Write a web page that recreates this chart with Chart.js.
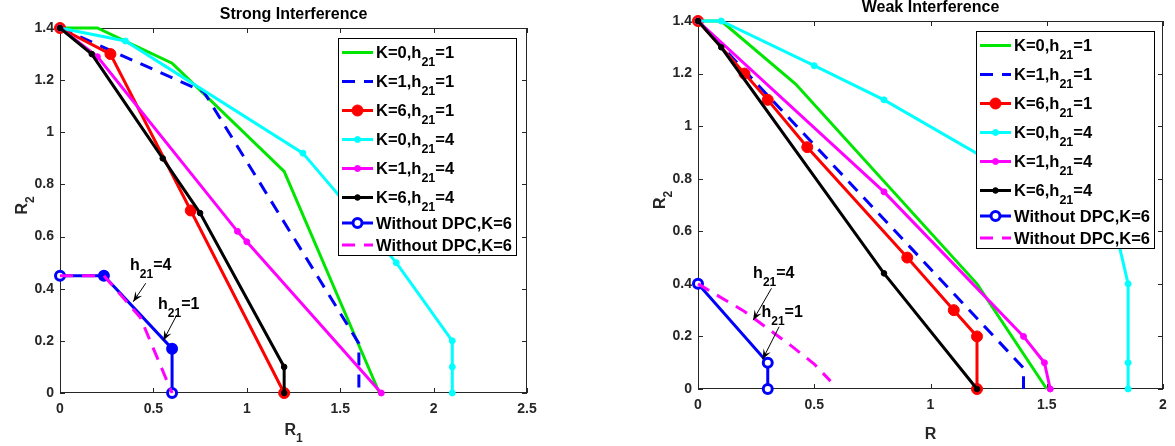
<!DOCTYPE html>
<html>
<head>
<meta charset="utf-8">
<script src="https://cdn.jsdelivr.net/npm/chart.js@4.4.1/dist/chart.umd.min.js"></script>
<style>
  html, body { margin: 0; padding: 0; background: #fff; overflow: hidden; }
  #wrap { position: relative; width: 1175px; height: 446px; }
  canvas { position: absolute; top: 0; }
  #strong { left: 0; }
  #weak { left: 640px; }
</style>
</head>
<body>
<div id="wrap">
  <canvas id="strong" width="560" height="446"></canvas>
  <canvas id="weak" width="535" height="446"></canvas>
</div>
<script>
// ---- data: [R1, R2] pairs per curve ----
const legendLabels = [
  'K=0,h_{21}=1', 'K=1,h_{21}=1', 'K=6,h_{21}=1',
  'K=0,h_{21}=4', 'K=1,h_{21}=4', 'K=6,h_{21}=4',
  'Without DPC,K=6', 'Without DPC,K=6'
];

// strong interference (left)
const strongXTicks = [0, 0.5, 1, 1.5, 2, 2.5];
const strongYTicks = [0, 0.2, 0.4, 0.6, 0.8, 1, 1.2, 1.4];
const strongK0H1 = [[0, 1.4], [0.2, 1.4], [0.6, 1.265], [1.2, 0.85], [1.71, 0]];
const strongK1H1 = [[0, 1.4], [0.77, 1.155], [1.6, 0.19], [1.6, 0]];
const strongK6H1 = [[0, 1.4], [0.27, 1.3], [0.7, 0.7], [1.2, 0]];
const strongK0H4 = [[0, 1.4], [0.35, 1.35], [1.3, 0.92], [1.8, 0.5], [2.1, 0.2], [2.1, 0.1], [2.1, 0]];
const strongK1H4 = [[0, 1.4], [0.2, 1.29], [0.95, 0.62], [1.0, 0.58], [1.72, 0]];
const strongK6H4 = [[0, 1.4], [0.17, 1.3], [0.55, 0.9], [0.75, 0.69], [1.2, 0.1], [1.2, 0]];
const strongNoDpcH1 = [[0, 0.45], [0.235, 0.45], [0.6, 0.17], [0.6, 0]];
const strongNoDpcH4 = [[0, 0.45], [0.235, 0.45], [0.43, 0.29], [0.6, 0]];

// weak interference (right)
const weakXTicks = [0, 0.5, 1, 1.5, 2];
const weakYTicks = [0, 0.2, 0.4, 0.6, 0.8, 1, 1.2, 1.4];
const weakK0H1 = [[0, 1.4], [0.1, 1.4], [0.42, 1.16], [1.2, 0.4], [1.5, 0]];
const weakK1H1 = [[0, 1.4], [1.4, 0.08], [1.4, 0]];
const weakK6H1 = [[0, 1.4], [0.2, 1.2], [0.3, 1.1], [0.47, 0.92], [0.9, 0.5], [1.1, 0.3], [1.2, 0.2], [1.2, 0]];
const weakK0H4 = [[0, 1.4], [0.1, 1.4], [0.5, 1.23], [0.8, 1.1], [1.8, 0.59], [1.85, 0.4], [1.85, 0.1], [1.85, 0]];
const weakK1H4 = [[0, 1.4], [0.8, 0.75], [1.4, 0.2], [1.49, 0.1], [1.515, 0]];
const weakK6H4 = [[0, 1.4], [0.1, 1.3], [0.8, 0.44], [1.2, 0]];
const weakNoDpcH1 = [[0, 0.4], [0.3, 0.1], [0.3, 0]];
const weakNoDpcH4 = [[0, 0.4], [0.2, 0.295], [0.4, 0.165], [0.5, 0.095], [0.57, 0.03]];

// ---- look ----
const FONT = '"Liberation Sans", Arial, Helvetica, sans-serif';
const AXIS_GRAY = '#262626';
const DASH = [13, 9];
const LINE_W = 3;

const seriesStyles = [
  { color: '#00e600', dash: [], radius: 0 },
  { color: '#0000ff', dash: DASH, radius: 0 },
  { color: '#ff0000', dash: [], radius: 5.5 },
  { color: '#00ffff', dash: [], radius: 3 },
  { color: '#ff00ff', dash: [], radius: 3 },
  { color: '#000000', dash: [], radius: 2.8 },
  { color: '#0000ff', dash: [], radius: 4.5, hollow: true },
  { color: '#ff00ff', dash: DASH, radius: 0 }
];

// annotation text + arrows, in data coordinates
const extras = {
  strong: {
    xLabel: 'R_{1}', xLabelDrop: 42, legendInset: 10,
    notes: [
      { text: 'h_{21}=4', x: 0.375, y: 0.472, from: [0.459, 0.421], to: [0.392, 0.35] },
      { text: 'h_{21}=1', x: 0.525, y: 0.322, from: [0.625, 0.299], to: [0.553, 0.201] }
    ],
    hollowAll: false
  },
  weak: {
    xLabel: 'R', xLabelDrop: 50, legendInset: 8,
    notes: [
      { text: 'h_{21}=4', x: 0.237, y: 0.422, from: [0.316, 0.383], to: [0.237, 0.262] },
      { text: 'h_{21}=1', x: 0.273, y: 0.275, from: [0.349, 0.237], to: [0.278, 0.113] }
    ],
    hollowAll: true
  }
};

function font(size) { return `bold ${size}px ${FONT}`; }

// text with _{sub} parts
function drawRich(ctx, str, x, y, size, subSize, drop, align) {
  const parts = str.split(/_\{(.*?)\}/).map((t, i) => ({ t, sub: i % 2 === 1 })).filter(p => p.t);
  let w = 0;
  parts.forEach(p => { ctx.font = font(p.sub ? subSize : size); p.w = ctx.measureText(p.t).width; w += p.w; });
  let cx = align === 'center' ? x - w / 2 : x;
  ctx.textAlign = 'left';
  ctx.textBaseline = 'alphabetic';
  parts.forEach(p => {
    ctx.font = font(p.sub ? subSize : size);
    ctx.fillText(p.t, cx, p.sub ? y + drop : y);
    cx += p.w;
  });
}

function drawArrow(ctx, x1, y1, x2, y2) {
  ctx.beginPath(); ctx.moveTo(x1, y1); ctx.lineTo(x2, y2); ctx.stroke();
  const ang = Math.atan2(y2 - y1, x2 - x1);
  const L = 10, W = 4;
  const c = Math.cos(ang), s = Math.sin(ang);
  ctx.beginPath();
  ctx.moveTo(x2, y2);
  ctx.lineTo(x2 - L * c + W * s, y2 - L * s - W * c);
  ctx.lineTo(x2 - 0.6 * L * c, y2 - 0.6 * L * s);
  ctx.lineTo(x2 - L * c - W * s, y2 - L * s + W * c);
  ctx.closePath();
  ctx.fill();
}

function drawMarker(ctx, x, y, st) {
  if (!st.radius) return;
  ctx.setLineDash([]);
  ctx.beginPath();
  ctx.arc(x, y, st.radius, 0, Math.PI * 2);
  ctx.fillStyle = st.hollow ? '#fff' : st.color;
  ctx.fill();
  ctx.lineWidth = st.hollow ? LINE_W : 1;
  ctx.strokeStyle = st.color;
  ctx.stroke();
}

const matlabLook = {
  id: 'matlabLook',
  beforeDatasetsDraw(chart) {
    const { ctx, chartArea: a, scales } = chart;
    ctx.save();
    ctx.strokeStyle = AXIS_GRAY;
    ctx.lineWidth = 1;
    ctx.strokeRect(a.left + 0.5, a.top + 0.5, a.right - a.left - 1, a.bottom - a.top - 1);
    ctx.beginPath();
    scales.x.ticks.forEach(t => {
      const px = Math.round(scales.x.getPixelForValue(t.value)) + 0.5;
      ctx.moveTo(px, a.bottom); ctx.lineTo(px, a.bottom - 5);
      ctx.moveTo(px, a.top); ctx.lineTo(px, a.top + 5);
    });
    scales.y.ticks.forEach(t => {
      const py = Math.round(scales.y.getPixelForValue(t.value)) + 0.5;
      ctx.moveTo(a.left, py); ctx.lineTo(a.left + 5, py);
      ctx.moveTo(a.right, py); ctx.lineTo(a.right - 5, py);
    });
    ctx.stroke();
    ctx.restore();
  },
  afterDatasetsDraw(chart) {
    const { ctx, chartArea: a, scales } = chart;
    const ex = extras[chart.canvas.id];
    ctx.save();

    // annotations
    ctx.fillStyle = '#000';
    ctx.strokeStyle = '#000';
    ctx.lineWidth = 1;
    ex.notes.forEach(n => {
      drawRich(ctx, n.text, scales.x.getPixelForValue(n.x), scales.y.getPixelForValue(n.y), 16, 12, 8, 'left');
      drawArrow(ctx,
        scales.x.getPixelForValue(n.from[0]), scales.y.getPixelForValue(n.from[1]),
        scales.x.getPixelForValue(n.to[0]), scales.y.getPixelForValue(n.to[1]));
    });

    // legend
    const w = 179, h = 218;
    const left = a.right - ex.legendInset - w, top = a.top + 10;
    ctx.fillStyle = '#fff';
    ctx.fillRect(left, top, w, h);
    ctx.strokeStyle = '#000';
    ctx.lineWidth = 1;
    ctx.strokeRect(left + 0.5, top + 0.5, w - 1, h - 1);
    const rowH = lbl => (lbl.indexOf('_{') >= 0 ? 29 : 22);
    let y = top + 14.5;
    chart.data.datasets.forEach((ds, i) => {
      if (i > 0) y += (rowH(chart.data.datasets[i - 1].label) + rowH(ds.label)) / 2;
      const st = seriesStyles[i];
      ctx.strokeStyle = st.color;
      ctx.lineWidth = LINE_W;
      ctx.setLineDash(st.dash);
      ctx.beginPath(); ctx.moveTo(left + 4, y); ctx.lineTo(left + 35, y); ctx.stroke();
      drawMarker(ctx, left + 19.5, y, st);
      ctx.fillStyle = '#000';
      drawRich(ctx, ds.label, left + 38, y + 5.5, 16.5, 12.5, 8, 'left');
    });
    ctx.setLineDash([]);

    // axis labels
    ctx.fillStyle = AXIS_GRAY;
    drawRich(ctx, ex.xLabel, (a.left + a.right) / 2, a.bottom + ex.xLabelDrop, 16, 12, 7, 'center');
    ctx.translate(a.left - 33, (a.top + a.bottom) / 2 - 5);
    ctx.rotate(-Math.PI / 2);
    drawRich(ctx, 'R_{2}', 0, 0, 16, 12, 7, 'center');
    ctx.restore();
  }
};

function buildDatasets(series, hollowAll) {
  return series.map((pts, i) => {
    const st = seriesStyles[i];
    return {
      label: legendLabels[i],
      data: pts.map(([x, y]) => ({ x, y })),
      showLine: true,
      borderColor: st.color,
      backgroundColor: st.color,
      borderWidth: LINE_W,
      borderDash: st.dash,
      pointRadius: st.radius,
      pointHoverRadius: st.radius,
      pointBorderColor: st.color,
      pointBorderWidth: st.hollow ? LINE_W : 1,
      pointBackgroundColor: st.hollow
        ? pts.map((p, j) => (hollowAll || j === 0 || j === pts.length - 1 ? '#fff' : st.color))
        : st.color,
      tension: 0,
      clip: false,
      order: series.length - i
    };
  });
}

function axis(ticks, fixSize, isX, pad) {
  return {
    type: 'linear',
    min: ticks[0],
    max: ticks[ticks.length - 1],
    afterBuildTicks: s => { s.ticks = ticks.map(value => ({ value })); },
    afterFit: s => { if (isX) s.height = fixSize; else s.width = fixSize; },
    grid: { display: false, drawTicks: false },
    border: { display: false },
    ticks: {
      color: AXIS_GRAY,
      font: { family: FONT, size: 14, weight: 'bold' },
      padding: pad,
      autoSkip: false,
      maxRotation: 0,
      callback: v => String(v)
    }
  };
}

function makeChart(id, title, series, xTicks, yTicks, layout) {
  const canvas = document.getElementById(id);
  new Chart(canvas, {
    type: 'scatter',
    data: { datasets: buildDatasets(series, extras[id].hollowAll) },
    options: {
      responsive: false,
      animation: false,
      events: [],
      layout: { padding: { left: 0, top: 0, right: layout.right, bottom: 0 } },
      scales: {
        x: axis(xTicks, layout.xHeight, true, 8),
        y: axis(yTicks, layout.yWidth, false, 6)
      },
      plugins: {
        legend: { display: false },
        tooltip: { enabled: false },
        title: {
          display: true,
          text: title,
          fullSize: false,
          color: '#000',
          font: { family: FONT, size: 16, weight: 'bold', lineHeight: 1 },
          padding: { top: layout.titleTop, bottom: 5 }
        }
      }
    },
    plugins: [matlabLook]
  });
}

makeChart('strong', 'Strong Interference',
  [strongK0H1, strongK1H1, strongK6H1, strongK0H4, strongK1H4, strongK6H4, strongNoDpcH1, strongNoDpcH4],
  strongXTicks, strongYTicks,
  { right: 33, xHeight: 53, yWidth: 60, titleTop: 7 });

makeChart('weak', 'Weak Interference',
  [weakK0H1, weakK1H1, weakK6H1, weakK0H4, weakK1H4, weakK6H4, weakNoDpcH1, weakNoDpcH4],
  weakXTicks, weakYTicks,
  { right: 12, xHeight: 57, yWidth: 58, titleTop: 0 });
</script>
</body>
</html>
